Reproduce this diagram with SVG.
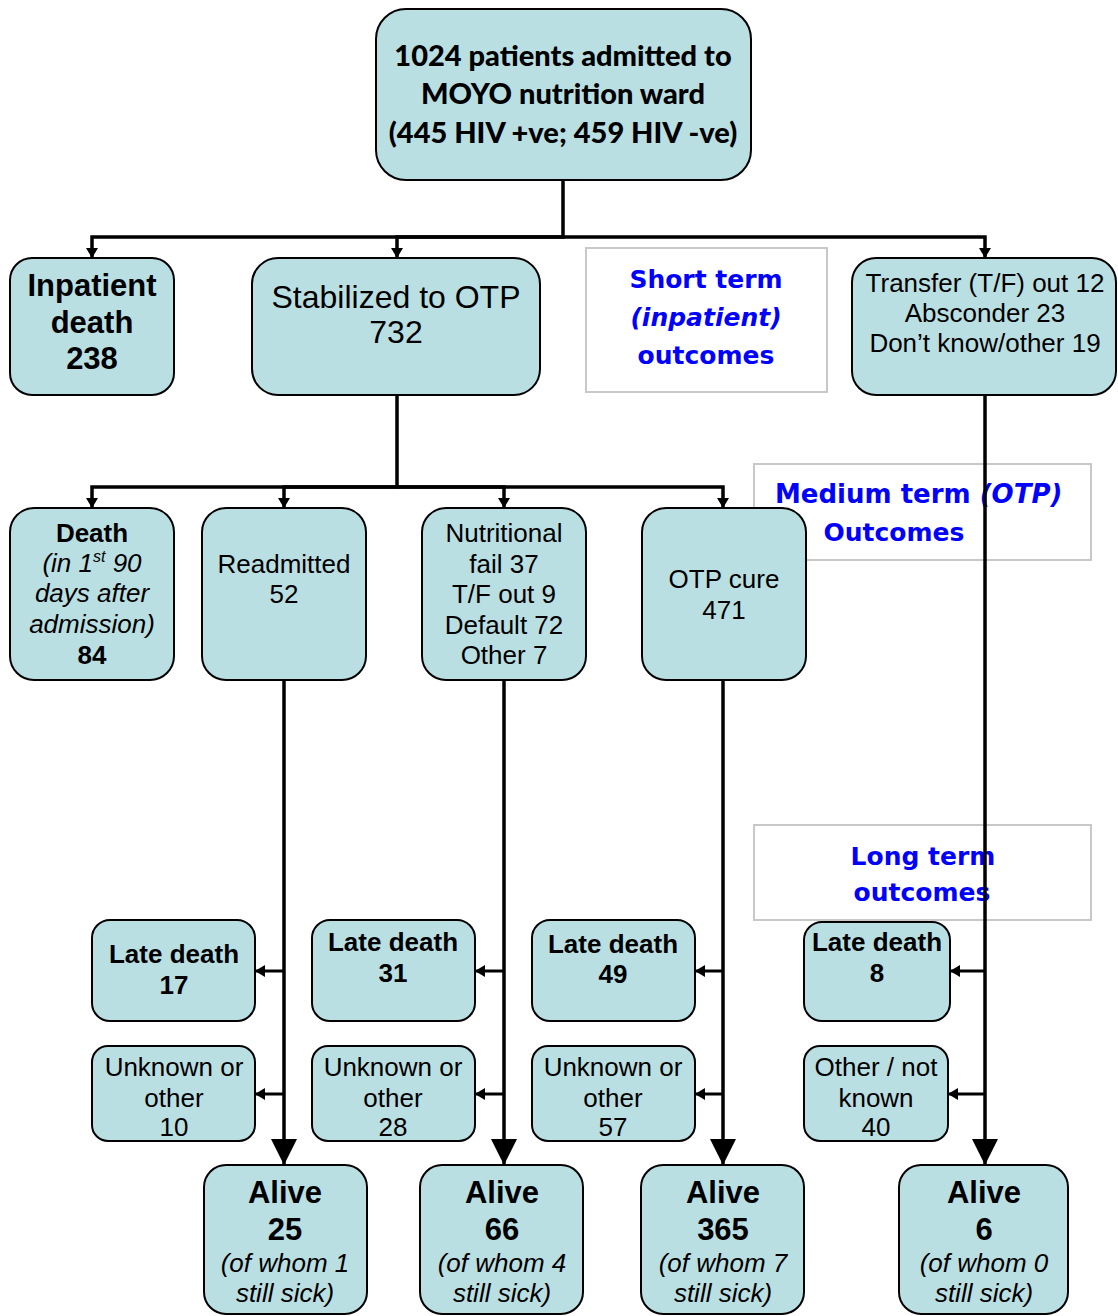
<svg xmlns="http://www.w3.org/2000/svg" width="1118" height="1316" viewBox="0 0 1118 1316">
<defs>
<style>
.box{fill:#badfe3;stroke:#000;stroke-width:2}
.lbl{fill:#fff;stroke:#c8c8c8;stroke-width:2}
.t{font-family:"Liberation Sans",Arial,sans-serif;font-size:26px;fill:#000;text-anchor:middle}
.b{font-weight:bold}
.i{font-style:italic}
.big{font-size:31px}
.huge{font-size:32px}
.top{font-family:Lato,"Open Sans",sans-serif;font-weight:900;font-size:29px;text-anchor:middle;fill:#000}
.blue{font-family:"DejaVu Sans",Verdana,sans-serif;font-weight:bold;font-size:25px;fill:#0000ff;text-anchor:middle}
.st{text-anchor:start;font-size:26px}
.c{fill:none;stroke:#000;stroke-width:3.5}
.s{stroke-width:3}
</style>
<marker id="sa" viewBox="0 0 10 12" refX="10" refY="6" markerWidth="10" markerHeight="12" markerUnits="userSpaceOnUse" orient="auto"><path d="M0,0 L10,6 L0,12 z" fill="#000"/></marker>
<marker id="ba" viewBox="0 0 26 26" refX="26" refY="13" markerWidth="26" markerHeight="26" markerUnits="userSpaceOnUse" orient="auto"><path d="M0,0 L26,13 L0,26 z" fill="#000"/></marker>
</defs>
<rect width="1118" height="1316" fill="#fff"/>

<g id="labels">
<g id="lbl-short"><rect class="lbl" x="586" y="248" width="241" height="144"/>
<text class="blue" x="706" y="288">Short term</text>
<text class="blue" x="706" y="326" font-style="italic">(inpatient)</text>
<text class="blue" x="706" y="364">outcomes</text></g>
<g id="lbl-medium"><rect class="lbl" x="754" y="464" width="337" height="96"/>
<text class="blue st" x="775" y="503">Medium term <tspan font-style="italic">(OTP)</tspan></text>
<text class="blue" x="894" y="541">Outcomes</text></g>
<g id="lbl-long"><rect class="lbl" x="754" y="825" width="337" height="95"/>
<text class="blue" x="923" y="865">Long term</text>
<text class="blue" x="922" y="901">outcomes</text></g>
</g>

<g id="connectors">
<path class="c" d="M563,180 V237 H92 V258" marker-end="url(#sa)"/>
<path class="c" d="M563,237 H397 V258" marker-end="url(#sa)"/>
<path class="c" d="M563,237 H985 V258" marker-end="url(#sa)"/>
<path class="c" d="M397,395 V487 H92 V508" marker-end="url(#sa)"/>
<path class="c" d="M397,487 H284 V508" marker-end="url(#sa)"/>
<path class="c" d="M397,487 H504 V508" marker-end="url(#sa)"/>
<path class="c" d="M397,487 H723 V508" marker-end="url(#sa)"/>
<path class="c" d="M985,395 V1165" marker-end="url(#ba)"/>
<path class="c" d="M284,680 V1165" marker-end="url(#ba)"/>
<path class="c" d="M504,680 V1165" marker-end="url(#ba)"/>
<path class="c" d="M723,680 V1165" marker-end="url(#ba)"/>
<path class="c s" d="M284,971 H255" marker-end="url(#sa)"/>
<path class="c s" d="M284,1094 H255" marker-end="url(#sa)"/>
<path class="c s" d="M504,971 H475" marker-end="url(#sa)"/>
<path class="c s" d="M504,1094 H475" marker-end="url(#sa)"/>
<path class="c s" d="M723,971 H695" marker-end="url(#sa)"/>
<path class="c s" d="M723,1094 H695" marker-end="url(#sa)"/>
<path class="c s" d="M985,971 H950" marker-end="url(#sa)"/>
<path class="c s" d="M985,1094 H948" marker-end="url(#sa)"/>
</g>

<g id="n-admitted"><rect class="box" x="376" y="9" width="375" height="171" rx="30"/>
<text class="top" x="563" y="66">1024 patients admitted to</text>
<text class="top" x="563" y="104">MOYO nutrition ward</text>
<text class="top" x="563" y="143">(445 HIV +ve; 459 HIV -ve)</text></g>

<g id="n-inpatient-death"><rect class="box" x="10" y="258" width="164" height="137" rx="22"/>
<text class="t b big" x="92" y="296">Inpatient</text>
<text class="t b big" x="92" y="333">death</text>
<text class="t b big" x="92" y="369">238</text></g>

<g id="n-stabilized"><rect class="box" x="252" y="258" width="288" height="137" rx="26"/>
<text class="t huge" x="396" y="308">Stabilized to OTP</text>
<text class="t huge" x="396" y="343">732</text></g>

<g id="n-transfer"><rect class="box" x="852" y="258" width="264" height="137" rx="24"/>
<text class="t" x="985" y="292">Transfer (T/F) out 12</text>
<text class="t" x="985" y="322">Absconder 23</text>
<text class="t" x="985" y="352">Don’t know/other 19</text></g>

<g id="n-death"><rect class="box" x="10" y="508" width="164" height="172" rx="24"/>
<text class="t b" x="92" y="542">Death</text>
<text class="t i" x="92" y="572">(in 1<tspan font-size="16" dy="-10">st</tspan><tspan dy="10"> 90</tspan></text>
<text class="t i" x="92" y="602">days after</text>
<text class="t i" x="92" y="633">admission)</text>
<text class="t b" x="92" y="664">84</text></g>

<g id="n-readmitted"><rect class="box" x="202" y="508" width="164" height="172" rx="24"/>
<text class="t" x="284" y="573">Readmitted</text>
<text class="t" x="284" y="603">52</text></g>

<g id="n-nutritional"><rect class="box" x="422" y="508" width="164" height="172" rx="24"/>
<text class="t" x="504" y="542">Nutritional</text>
<text class="t" x="504" y="573">fail 37</text>
<text class="t" x="504" y="603">T/F out 9</text>
<text class="t" x="504" y="634">Default 72</text>
<text class="t" x="504" y="664">Other 7</text></g>

<g id="n-otp-cure"><rect class="box" x="642" y="508" width="164" height="172" rx="24"/>
<text class="t" x="724" y="588">OTP cure</text>
<text class="t" x="724" y="619">471</text></g>

<g id="n-late17"><rect class="box" x="92" y="920" width="163" height="101" rx="18"/>
<text class="t b" x="174" y="963">Late death</text>
<text class="t b" x="174" y="994">17</text></g>
<g id="n-late31"><rect class="box" x="312" y="920" width="163" height="101" rx="18"/>
<text class="t b" x="393" y="951">Late death</text>
<text class="t b" x="393" y="982">31</text></g>
<g id="n-late49"><rect class="box" x="532" y="920" width="163" height="101" rx="18"/>
<text class="t b" x="613" y="953">Late death</text>
<text class="t b" x="613" y="983">49</text></g>
<g id="n-late8"><rect class="box" x="804" y="922" width="146" height="99" rx="18"/>
<text class="t b" x="877" y="951">Late death</text>
<text class="t b" x="877" y="982">8</text></g>

<g id="n-unk10"><rect class="box" x="92" y="1046" width="163" height="95" rx="16"/>
<text class="t" x="174" y="1076">Unknown or</text>
<text class="t" x="174" y="1107">other</text>
<text class="t" x="174" y="1136">10</text></g>
<g id="n-unk28"><rect class="box" x="312" y="1046" width="163" height="95" rx="16"/>
<text class="t" x="393" y="1076">Unknown or</text>
<text class="t" x="393" y="1107">other</text>
<text class="t" x="393" y="1136">28</text></g>
<g id="n-unk57"><rect class="box" x="532" y="1046" width="163" height="95" rx="16"/>
<text class="t" x="613" y="1076">Unknown or</text>
<text class="t" x="613" y="1107">other</text>
<text class="t" x="613" y="1136">57</text></g>
<g id="n-other40"><rect class="box" x="804" y="1046" width="144" height="95" rx="16"/>
<text class="t" x="876" y="1076">Other / not</text>
<text class="t" x="876" y="1107">known</text>
<text class="t" x="876" y="1136">40</text></g>

<g id="n-alive25"><rect class="box" x="204" y="1165" width="163" height="149" rx="22"/>
<text class="t b big" x="285" y="1203">Alive</text>
<text class="t b big" x="285" y="1240">25</text>
<text class="t i" x="285" y="1272">(of whom 1</text>
<text class="t i" x="285" y="1302">still sick)</text></g>
<g id="n-alive66"><rect class="box" x="420" y="1165" width="163" height="149" rx="22"/>
<text class="t b big" x="502" y="1203">Alive</text>
<text class="t b big" x="502" y="1240">66</text>
<text class="t i" x="502" y="1272">(of whom 4</text>
<text class="t i" x="502" y="1302">still sick)</text></g>
<g id="n-alive365"><rect class="box" x="641" y="1165" width="163" height="149" rx="22"/>
<text class="t b big" x="723" y="1203">Alive</text>
<text class="t b big" x="723" y="1240">365</text>
<text class="t i" x="723" y="1272">(of whom 7</text>
<text class="t i" x="723" y="1302">still sick)</text></g>
<g id="n-alive6"><rect class="box" x="899" y="1165" width="169" height="149" rx="22"/>
<text class="t b big" x="984" y="1203">Alive</text>
<text class="t b big" x="984" y="1240">6</text>
<text class="t i" x="984" y="1272">(of whom 0</text>
<text class="t i" x="984" y="1302">still sick)</text></g>
</svg>
